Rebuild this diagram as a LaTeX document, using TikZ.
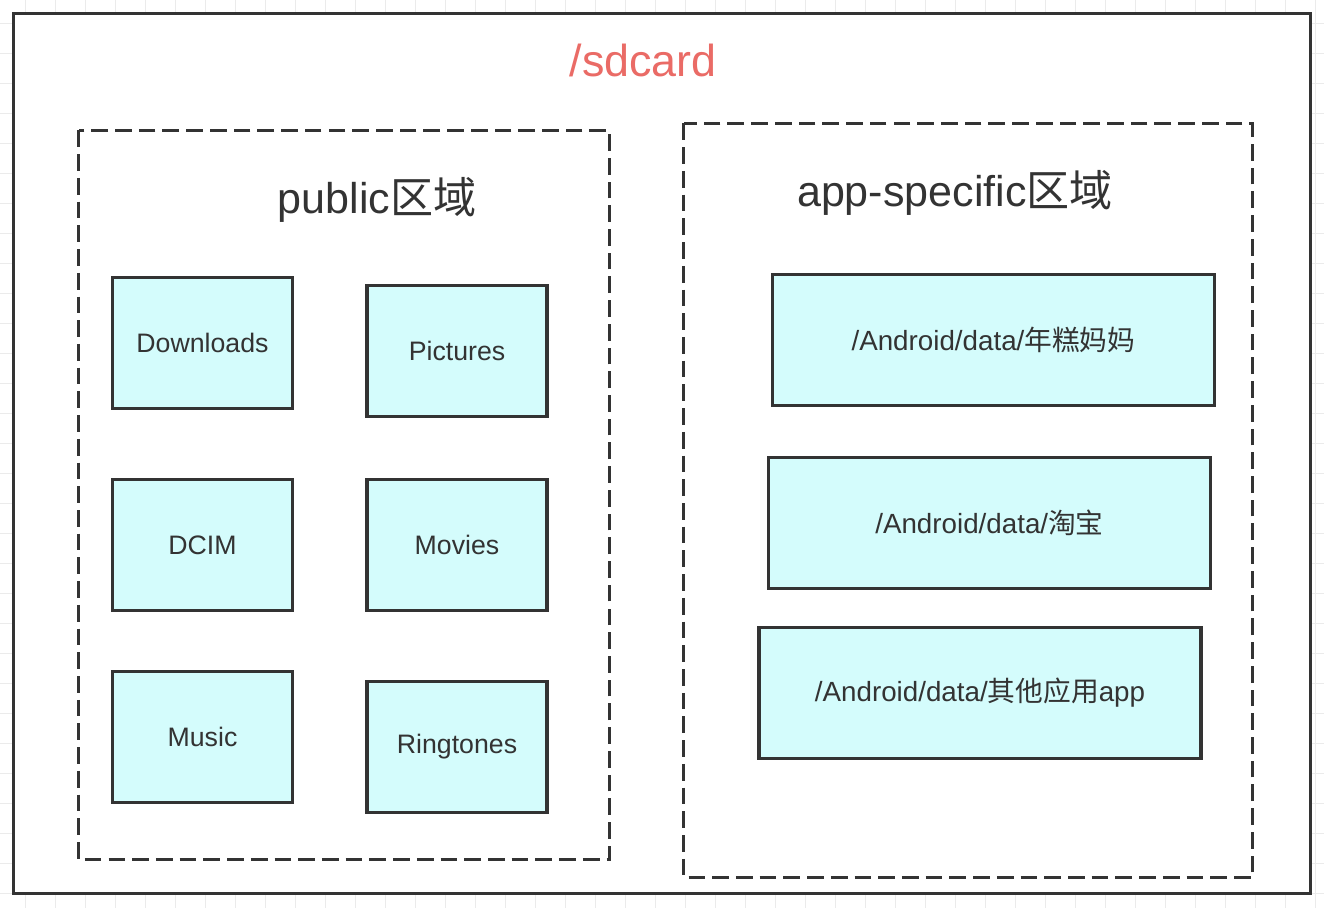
\documentclass[tikz,border=0pt]{standalone}
\usepackage{fontspec}
\setmainfont{Liberation Sans}
\newfontfamily\cjk{Noto Sans CJK SC}
\usepackage{tikz}
\usetikzlibrary{positioning}

\definecolor{inkgray}{HTML}{333333}
\definecolor{gridgray}{HTML}{EBEBEB}
\definecolor{boxcyan}{RGB}{212,252,252}
\definecolor{titlered}{HTML}{EA6B66}

\begin{document}
\begin{tikzpicture}[x=0.02cm, y=-0.02cm,
        gridline/.style={gridgray, line width=0.5pt},
        sdframe/.style={inkgray, line width=2pt, fill=white},
        region/.style={inkgray, line width=2pt, dash pattern=on 9.5pt off 4pt},
        folder/.style={draw=inkgray, fill=boxcyan, line width=2pt, inner sep=0pt,
            minimum width=180*0.02cm, minimum height=131*0.02cm,
            text=inkgray, font=\fontsize{15.2}{18}\selectfont},
        appfolder/.style={folder, minimum width=442*0.02cm, font=\fontsize{15.8}{18}\selectfont},
        regiontitle/.style={text=inkgray, font=\fontsize{24.5}{28}\selectfont}]
            \useasboundingbox (0,0) rectangle (1324,908);

            % draw background grid
            \foreach \x in {25,55,...,1315}
            {
                \draw[gridline] (\x, 0) -- (\x, 908);
            }
            \foreach \y in {23,53,...,905}
            {
                \draw[gridline] (0, \y) -- (1324, \y);
            }

            % sdcard border
            \draw[sdframe] (13.5,13.5) rectangle (1310.5,893.5);
            \node[text=titlered, font=\fontsize{25.5}{30}\selectfont] (sdcard) at (643,60) {/sdcard};

            % public region
            \draw[region] (78.5,130.5) rectangle (609.5,859.5);
            \node[regiontitle] (public) at (377,200) {public{\cjk 区域}};

            \foreach \name/\label/\px/\py in {downloads/Downloads/202.5/343, pictures/Pictures/457/351,
                    dcim/DCIM/202.5/545, movies/Movies/457/545,
                    music/Music/202.5/737, ringtones/Ringtones/457/747}{
                \node[folder] (\name) at (\px,\py) {\label};
            }

            % app-specific region
            \draw[region] (683.5,123.5) rectangle (1252.5,877.5);
            \node[regiontitle] (appspecific) at (955,193) {app-specific{\cjk 区域}};

            \node[appfolder] (nian) at (993.5,340) {/Android/data/{\cjk 年糕妈妈}};
            \node[appfolder] (taobao) at (989.5,523) {/Android/data/{\cjk 淘宝}};
            \node[appfolder] (others) at (980,693) {/Android/data/{\cjk 其他应用}app};
        \end{tikzpicture}
\end{document}
